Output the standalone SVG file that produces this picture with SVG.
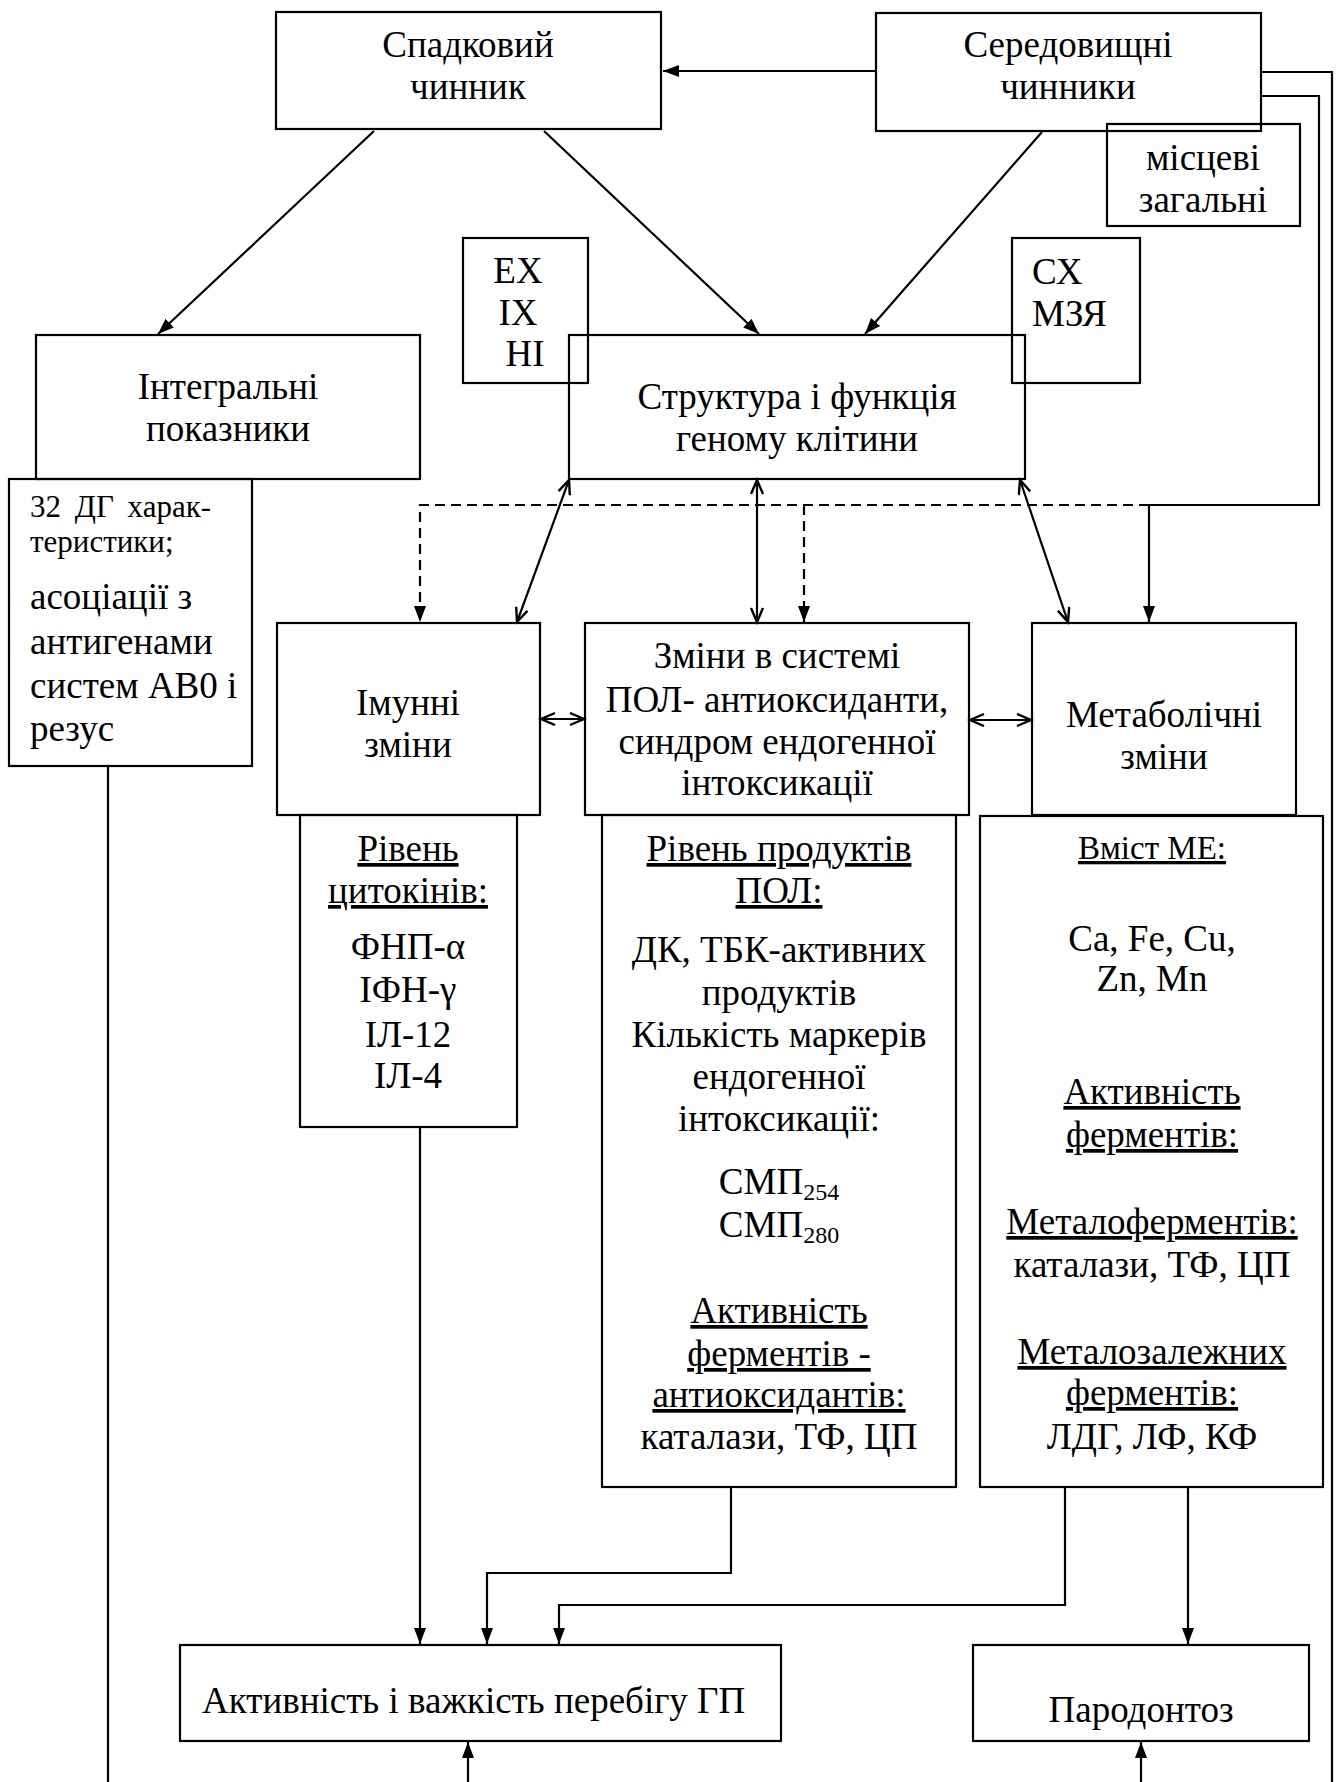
<svg xmlns="http://www.w3.org/2000/svg" width="1341" height="1782" viewBox="0 0 1341 1782">
<defs>
<style>
.box{fill:none;stroke:#000;stroke-width:2.2}
.ln{fill:none;stroke:#000;stroke-width:2.2}
.dash{fill:none;stroke:#000;stroke-width:2.2;stroke-dasharray:10 6}
text{font-family:"Liberation Serif","Times New Roman",serif;font-size:37px;fill:#000}
.c{text-anchor:middle}
.s{font-size:31px}
.m{font-size:33px}
.u{text-decoration:underline}
</style>
<marker id="ah" markerUnits="userSpaceOnUse" markerWidth="18" markerHeight="14" refX="16" refY="6" orient="auto">
<path d="M0,0 L16,6 L0,12 z" fill="#000"/>
</marker>
<marker id="av" markerUnits="userSpaceOnUse" markerWidth="18" markerHeight="16" refX="15" refY="7" orient="auto-start-reverse">
<path d="M1,1 L15,7 L1,13" fill="none" stroke="#000" stroke-width="2.4"/>
</marker>
</defs>
<rect width="1341" height="1782" fill="#fff"/>

<g id="connectors">
<line class="ln" x1="374" y1="131" x2="158" y2="334" marker-end="url(#ah)"/>
<line class="ln" x1="544" y1="131" x2="759" y2="334" marker-end="url(#ah)"/>
<line class="ln" x1="1042" y1="132" x2="865" y2="334" marker-end="url(#ah)"/>
<line class="ln" x1="876" y1="71" x2="663" y2="71" marker-end="url(#ah)"/>
<polyline class="ln" points="1261,72 1332,72 1332,1782"/>
<polyline class="ln" points="1261,96 1319,96 1319,505 1149,505 1149,622" marker-end="url(#ah)"/>
<polyline class="dash" points="1149,505 420,505 420,622" marker-end="url(#ah)"/>
<line class="dash" x1="804" y1="505" x2="804" y2="622" marker-end="url(#ah)"/>
<line class="ln" x1="569" y1="480" x2="517" y2="622" marker-start="url(#av)" marker-end="url(#av)"/>
<line class="ln" x1="757" y1="480" x2="757" y2="622" marker-start="url(#av)" marker-end="url(#av)"/>
<line class="ln" x1="1020" y1="480" x2="1068" y2="622" marker-start="url(#av)" marker-end="url(#av)"/>
<line class="ln" x1="541" y1="719" x2="584" y2="719" marker-start="url(#av)" marker-end="url(#av)"/>
<line class="ln" x1="970" y1="720" x2="1031" y2="720" marker-start="url(#av)" marker-end="url(#av)"/>
<line class="ln" x1="420" y1="1127" x2="420" y2="1644" marker-end="url(#ah)"/>
<polyline class="ln" points="731,1487 731,1573 487,1573 487,1644" marker-end="url(#ah)"/>
<polyline class="ln" points="1065,1487 1065,1605 559,1605 559,1644" marker-end="url(#ah)"/>
<line class="ln" x1="1188" y1="1487" x2="1188" y2="1644" marker-end="url(#ah)"/>
<line class="ln" x1="468" y1="1782" x2="468" y2="1742" marker-end="url(#ah)"/>
<line class="ln" x1="1141" y1="1782" x2="1141" y2="1742" marker-end="url(#ah)"/>
<line class="ln" x1="108" y1="767" x2="108" y2="1782"/>
</g>

<g id="spadkovyi">
<rect class="box" x="276" y="12" width="385" height="117"/>
<text class="c" x="468" y="57">Спадковий</text>
<text class="c" x="468" y="99">чинник</text>
</g>
<g id="seredovyshchni">
<rect class="box" x="876" y="13" width="385" height="118"/>
<text class="c" x="1068" y="57">Середовищні</text>
<text class="c" x="1068" y="99">чинники</text>
</g>
<g id="mistsevi">
<rect class="box" x="1107" y="124" width="193" height="102"/>
<text class="c" x="1203" y="170">місцеві</text>
<text class="c" x="1203" y="212">загальні</text>
</g>
<g id="integralni">
<rect class="box" x="36" y="335" width="384" height="144"/>
<text class="c" x="228" y="399">Інтегральні</text>
<text class="c" x="228" y="441">показники</text>
</g>
<g id="dg">
<rect class="box" x="9" y="479" width="243" height="287"/>
<text class="s" x="30" y="517" word-spacing="6">32 ДГ харак-</text>
<text class="s" x="30" y="552">теристики;</text>
<text x="30" y="609">асоціації з</text>
<text x="30" y="654">антигенами</text>
<text x="30" y="698">систем АВ0 і</text>
<text x="30" y="741">резус</text>
</g>
<g id="exixni">
<rect class="box" x="463" y="238" width="125" height="145"/>
<text class="c" x="518" y="283">ЕХ</text>
<text class="c" x="518" y="325">ІХ</text>
<text class="c" x="525" y="366">НІ</text>
</g>
<g id="struktura">
<rect class="box" x="569" y="335" width="456" height="144"/>
<text class="c" x="797" y="409">Структура і функція</text>
<text class="c" x="797" y="451">геному клітини</text>
</g>
<g id="sxmzya">
<rect class="box" x="1012" y="238" width="128" height="145"/>
<text x="1032" y="284">СХ</text>
<text x="1032" y="326">МЗЯ</text>
</g>
<g id="imunni">
<rect class="box" x="277" y="623" width="263" height="192"/>
<text class="c" x="408" y="715">Імунні</text>
<text class="c" x="408" y="757">зміни</text>
</g>
<g id="zminy">
<rect class="box" x="585" y="623" width="384" height="192"/>
<text class="c" x="777" y="668">Зміни в системі</text>
<text class="c" x="777" y="712">ПОЛ- антиоксиданти,</text>
<text class="c" x="777" y="754">синдром ендогенної</text>
<text class="c" x="777" y="795">інтоксикації</text>
</g>
<g id="metabolichni">
<rect class="box" x="1032" y="623" width="264" height="192"/>
<text class="c" x="1164" y="727">Метаболічні</text>
<text class="c" x="1164" y="769">зміни</text>
</g>
<g id="tsytokiny">
<rect class="box" x="300" y="815" width="217" height="312"/>
<text class="c u" x="408" y="861">Рівень</text>
<text class="c u" x="408" y="903">цитокінів:</text>
<text class="c" x="408" y="959">ФНП-α</text>
<text class="c" x="408" y="1002">ІФН-γ</text>
<text class="c" x="408" y="1047">ІЛ-12</text>
<text class="c" x="408" y="1088">ІЛ-4</text>
</g>
<g id="pol">
<rect class="box" x="602" y="815" width="354" height="672"/>
<text class="c u" x="779" y="861">Рівень продуктів</text>
<text class="c u" x="779" y="903">ПОЛ:</text>
<text class="c" x="779" y="962">ДК, ТБК-активних</text>
<text class="c" x="779" y="1005">продуктів</text>
<text class="c" x="779" y="1047">Кількість маркерів</text>
<text class="c" x="779" y="1089">ендогенної</text>
<text class="c" x="779" y="1131">інтоксикації:</text>
<text class="c" x="779" y="1194">СМП<tspan font-size="24" dy="6">254</tspan></text>
<text class="c" x="779" y="1237">СМП<tspan font-size="24" dy="6">280</tspan></text>
<text class="c u" x="779" y="1323">Активність</text>
<text class="c u" x="779" y="1366">ферментів -</text>
<text class="c u" x="779" y="1407">антиоксидантів:</text>
<text class="c" x="779" y="1449">каталази, ТФ, ЦП</text>
</g>
<g id="me">
<rect class="box" x="980" y="816" width="343" height="671"/>
<text class="c u m" x="1152" y="859">Вміст МЕ:</text>
<text class="c" x="1152" y="951">Ca, Fe, Cu,</text>
<text class="c" x="1152" y="991">Zn, Mn</text>
<text class="c u" x="1152" y="1104">Активність</text>
<text class="c u" x="1152" y="1147">ферментів:</text>
<text class="c u" x="1152" y="1234">Металоферментів:</text>
<text class="c" x="1152" y="1277">каталази, ТФ, ЦП</text>
<text class="c u" x="1152" y="1364">Металозалежних</text>
<text class="c u" x="1152" y="1405">ферментів:</text>
<text class="c" x="1152" y="1449">ЛДГ, ЛФ, КФ</text>
</g>
<g id="aktyvnist">
<rect class="box" x="180" y="1645" width="601" height="96"/>
<text x="202" y="1713">Активність і важкість перебігу ГП</text>
</g>
<g id="parodontoz">
<rect class="box" x="973" y="1645" width="336" height="96"/>
<text class="c" x="1141" y="1722">Пародонтоз</text>
</g>
</svg>
